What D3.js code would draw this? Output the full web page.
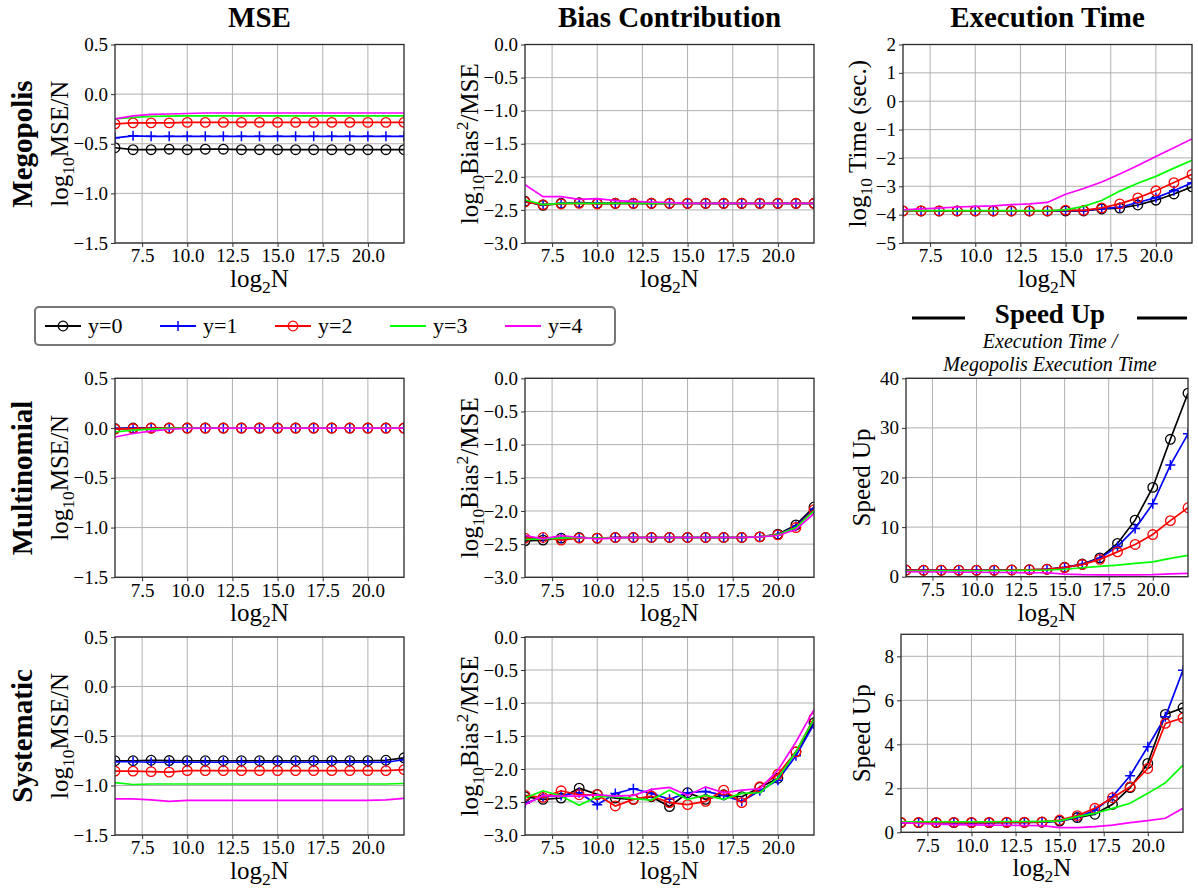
<!DOCTYPE html>
<html>
<head>
<meta charset="utf-8">
<script src="https://cdn.jsdelivr.net/npm/d3@7"></script>
<style>
  body { margin: 0; background: #fff; }
  svg, svg text { font-family: "Liberation Serif", "DejaVu Serif", serif; fill: #000; }
</style>
</head>
<body>
<svg id="fig" width="1198" height="890" font-family="Liberation Serif, DejaVu Serif, serif"></svg>
<script>
// x values: log2 N
const logN = [6, 7, 8, 9, 10, 11, 12, 13, 14, 15, 16, 17, 18, 19, 20, 21, 22]
const seriesNames = ["y=0", "y=1", "y=2", "y=3", "y=4"]
const seriesColors = ["#000000", "#0000ff", "#ff0000", "#00ff00", "#ff00ff"]
const seriesMarkers = ["circle", "plus", "circle", "none", "none"]
const xTickValues = [7.5, 10, 12.5, 15, 17.5, 20]

// Megopolis
const megopolisMse = [
  [-0.54, -0.56, -0.56, -0.555, -0.56, -0.555, -0.555, -0.56, -0.56, -0.56, -0.56, -0.56, -0.56, -0.56, -0.56, -0.56, -0.56],
  [-0.44, -0.42, -0.425, -0.425, -0.425, -0.425, -0.425, -0.425, -0.425, -0.425, -0.425, -0.425, -0.425, -0.425, -0.425, -0.425, -0.425],
  [-0.30, -0.29, -0.29, -0.29, -0.285, -0.285, -0.285, -0.285, -0.285, -0.285, -0.285, -0.285, -0.285, -0.285, -0.285, -0.285, -0.285],
  [-0.25, -0.235, -0.225, -0.222, -0.22, -0.22, -0.22, -0.22, -0.22, -0.22, -0.22, -0.22, -0.22, -0.22, -0.22, -0.22, -0.22],
  [-0.25, -0.22, -0.205, -0.20, -0.195, -0.19, -0.19, -0.19, -0.19, -0.19, -0.19, -0.19, -0.19, -0.19, -0.19, -0.19, -0.19]
]
const megopolisBias = [
  [-2.37, -2.43, -2.40, -2.39, -2.40, -2.40, -2.40, -2.40, -2.40, -2.40, -2.40, -2.40, -2.40, -2.40, -2.40, -2.40, -2.40],
  [-2.38, -2.42, -2.40, -2.39, -2.40, -2.40, -2.40, -2.40, -2.40, -2.40, -2.40, -2.40, -2.40, -2.40, -2.40, -2.40, -2.40],
  [-2.38, -2.42, -2.41, -2.40, -2.41, -2.40, -2.40, -2.40, -2.40, -2.40, -2.40, -2.40, -2.40, -2.40, -2.40, -2.40, -2.40],
  [-2.35, -2.42, -2.40, -2.40, -2.40, -2.40, -2.40, -2.40, -2.40, -2.40, -2.40, -2.40, -2.40, -2.40, -2.40, -2.40, -2.40],
  [-2.12, -2.30, -2.30, -2.34, -2.33, -2.36, -2.37, -2.38, -2.39, -2.40, -2.40, -2.40, -2.40, -2.40, -2.40, -2.40, -2.40]
]
const megopolisTime = [
  [-3.87, -3.87, -3.87, -3.87, -3.87, -3.87, -3.87, -3.87, -3.87, -3.87, -3.87, -3.80, -3.77, -3.66, -3.49, -3.27, -3.02],
  [-3.87, -3.87, -3.87, -3.87, -3.87, -3.87, -3.87, -3.87, -3.87, -3.86, -3.86, -3.79, -3.74, -3.57, -3.40, -3.16, -2.88],
  [-3.87, -3.87, -3.87, -3.87, -3.87, -3.87, -3.87, -3.87, -3.87, -3.84, -3.85, -3.76, -3.62, -3.41, -3.16, -2.87, -2.58],
  [-3.86, -3.86, -3.86, -3.86, -3.86, -3.86, -3.86, -3.86, -3.86, -3.83, -3.71, -3.50, -3.17, -2.89, -2.65, -2.36, -2.08],
  [-3.83, -3.80, -3.77, -3.73, -3.71, -3.69, -3.65, -3.62, -3.57, -3.28, -3.08, -2.85, -2.57, -2.27, -1.95, -1.64, -1.33]
]

// Multinomial
const multinomialMse = [
  [-0.005, 0, 0, 0, 0, 0, 0, 0, 0, 0, 0, 0, 0, 0, 0, 0, 0],
  [-0.005, 0, 0, 0, 0, 0, 0, 0, 0, 0, 0, 0, 0, 0, 0, 0, 0],
  [-0.01, -0.005, 0, 0, 0, 0, 0, 0, 0, 0, 0, 0, 0, 0, 0, 0, 0],
  [-0.04, -0.02, -0.01, -0.003, 0, 0, 0, 0, 0, 0, 0, 0, 0, 0, 0, 0, 0],
  [-0.09, -0.055, -0.03, -0.012, -0.003, 0, 0, 0, 0, 0, 0, 0, 0, 0, 0, 0, 0]
]
const multinomialBias = [
  [-2.45, -2.44, -2.41, -2.40, -2.41, -2.40, -2.40, -2.40, -2.40, -2.40, -2.40, -2.40, -2.40, -2.39, -2.35, -2.21, -1.94],
  [-2.42, -2.41, -2.41, -2.40, -2.41, -2.40, -2.40, -2.40, -2.40, -2.40, -2.40, -2.40, -2.40, -2.39, -2.36, -2.23, -1.97],
  [-2.41, -2.40, -2.44, -2.41, -2.41, -2.40, -2.40, -2.40, -2.40, -2.40, -2.40, -2.40, -2.40, -2.39, -2.36, -2.25, -1.98],
  [-2.43, -2.42, -2.41, -2.40, -2.41, -2.41, -2.40, -2.40, -2.40, -2.40, -2.40, -2.40, -2.40, -2.39, -2.36, -2.25, -2.00],
  [-2.37, -2.42, -2.37, -2.40, -2.42, -2.41, -2.40, -2.40, -2.40, -2.40, -2.40, -2.40, -2.40, -2.39, -2.37, -2.28, -2.04]
]
const multinomialSpeed = [
  [1.35, 1.3, 1.3, 1.3, 1.3, 1.3, 1.35, 1.4, 1.5, 1.9, 2.55, 3.8, 6.7, 11.4, 18.0, 27.7, 37.0],
  [1.3, 1.3, 1.3, 1.3, 1.3, 1.3, 1.35, 1.4, 1.5, 1.85, 2.5, 3.7, 6.1, 9.7, 14.7, 22.5, 28.8],
  [1.3, 1.3, 1.3, 1.3, 1.3, 1.3, 1.35, 1.4, 1.5, 1.85, 2.45, 3.5, 5.0, 6.5, 8.5, 11.3, 13.9],
  [1.15, 1.15, 1.2, 1.2, 1.2, 1.25, 1.25, 1.3, 1.35, 1.5, 1.8, 2.1, 2.35, 2.7, 3.0, 3.7, 4.3],
  [1.0, 0.95, 0.95, 0.9, 0.9, 0.85, 0.85, 0.8, 0.8, 0.5, 0.4, 0.38, 0.38, 0.38, 0.4, 0.55, 0.67]
]

// Systematic
const systematicMse = [
  [-0.75, -0.75, -0.745, -0.748, -0.75, -0.75, -0.75, -0.75, -0.75, -0.75, -0.75, -0.75, -0.75, -0.75, -0.75, -0.745, -0.72],
  [-0.76, -0.76, -0.765, -0.765, -0.765, -0.765, -0.765, -0.765, -0.765, -0.765, -0.765, -0.765, -0.765, -0.765, -0.765, -0.765, -0.74],
  [-0.855, -0.855, -0.86, -0.865, -0.85, -0.85, -0.85, -0.85, -0.85, -0.85, -0.85, -0.85, -0.85, -0.85, -0.85, -0.85, -0.84],
  [-0.97, -0.99, -0.985, -0.985, -0.985, -0.985, -0.985, -0.985, -0.985, -0.985, -0.985, -0.985, -0.985, -0.985, -0.985, -0.985, -0.98],
  [-1.135, -1.135, -1.145, -1.16, -1.15, -1.15, -1.15, -1.15, -1.15, -1.15, -1.15, -1.15, -1.15, -1.15, -1.15, -1.145, -1.13]
]
const systematicBias = [
  [-2.42, -2.46, -2.44, -2.29, -2.385, -2.44, -2.46, -2.42, -2.57, -2.36, -2.46, -2.39, -2.42, -2.28, -2.14, -1.74, -1.30],
  [-2.52, -2.42, -2.40, -2.36, -2.54, -2.37, -2.30, -2.37, -2.46, -2.36, -2.34, -2.40, -2.49, -2.33, -2.17, -1.80, -1.32],
  [-2.40, -2.43, -2.33, -2.39, -2.39, -2.56, -2.46, -2.41, -2.51, -2.54, -2.49, -2.32, -2.51, -2.27, -2.08, -1.74, -1.23],
  [-2.44, -2.33, -2.41, -2.55, -2.42, -2.42, -2.45, -2.47, -2.32, -2.46, -2.40, -2.46, -2.37, -2.36, -2.14, -1.74, -1.24],
  [-2.54, -2.40, -2.41, -2.41, -2.39, -2.41, -2.40, -2.31, -2.28, -2.40, -2.27, -2.36, -2.32, -2.30, -2.02, -1.59, -1.10]
]
const systematicSpeed = [
  [0.44, 0.44, 0.44, 0.44, 0.44, 0.44, 0.45, 0.45, 0.46, 0.51, 0.67, 0.82, 1.27, 2.03, 3.13, 5.36, 5.66],
  [0.44, 0.44, 0.44, 0.44, 0.44, 0.44, 0.45, 0.45, 0.46, 0.52, 0.68, 1.0, 1.62, 2.57, 3.89, 5.25, 7.37],
  [0.45, 0.45, 0.45, 0.45, 0.45, 0.45, 0.46, 0.46, 0.47, 0.56, 0.76, 1.09, 1.57, 2.07, 2.9, 4.95, 5.2],
  [0.48, 0.48, 0.48, 0.48, 0.48, 0.48, 0.49, 0.49, 0.50, 0.52, 0.71, 0.86, 1.09, 1.32, 1.77, 2.25, 3.06],
  [0.44, 0.40, 0.37, 0.35, 0.34, 0.33, 0.32, 0.31, 0.30, 0.21, 0.21, 0.26, 0.33, 0.44, 0.53, 0.64, 1.09]
]

const serif = "Liberation Serif, DejaVu Serif, serif"
const svg = d3.select("#fig")
const fontTick = 19, fontLabel = 25

// label parts: [text, kind] kind: n / sub / sup
function richText(sel, parts, size) {
  let shift = 0
  parts.forEach(([t, kind]) => {
    let target = kind == "sub" ? size * 0.24 : kind == "sup" ? -size * 0.42 : 0
    sel.append("tspan")
      .attr("dy", target - shift)
      .attr("font-size", kind == "n" ? size : size * 0.7)
      .text(t)
    shift = target
  })
}

const mseLabel = [["log", "n"], ["10", "sub"], ["MSE/N", "n"]]
const biasLabel = [["log", "n"], ["10", "sub"], ["Bias", "n"], ["2", "sup"], ["/MSE", "n"]]
const timeLabel = [["log", "n"], ["10", "sub"], ["\u2009Time (sec.)", "n"]]
const speedLabel = [["Speed Up", "n"]]

const panels = [
  {x0: 115, x1: 404, y0: 44.5, y1: 243, data: megopolisMse, yDomain: [-1.5, 0.5], yTicks: [-1.5, -1, -0.5, 0, 0.5], fmt: ".1f", label: mseLabel, lx: 68},
  {x0: 525, x1: 814, y0: 44.5, y1: 243, data: megopolisBias, yDomain: [-3, 0], yTicks: [-3, -2.5, -2, -1.5, -1, -0.5, 0], fmt: ".1f", label: biasLabel, lx: 478},
  {x0: 903, x1: 1192, y0: 44.5, y1: 243, data: megopolisTime, yDomain: [-5, 2], yTicks: [-5, -4, -3, -2, -1, 0, 1, 2], fmt: "d", label: timeLabel, lx: 866},
  {x0: 115, x1: 404, y0: 378.3, y1: 577.3, data: multinomialMse, yDomain: [-1.5, 0.5], yTicks: [-1.5, -1, -0.5, 0, 0.5], fmt: ".1f", label: mseLabel, lx: 68},
  {x0: 525, x1: 814, y0: 378.3, y1: 577.3, data: multinomialBias, yDomain: [-3, 0], yTicks: [-3, -2.5, -2, -1.5, -1, -0.5, 0], fmt: ".1f", label: biasLabel, lx: 478},
  {x0: 906, x1: 1188, y0: 378.3, y1: 576.7, data: multinomialSpeed, yDomain: [0, 40], yTicks: [0, 10, 20, 30, 40], fmt: "d", label: speedLabel, lx: 870},
  {x0: 115, x1: 404, y0: 637, y1: 835, data: systematicMse, yDomain: [-1.5, 0.5], yTicks: [-1.5, -1, -0.5, 0, 0.5], fmt: ".1f", label: mseLabel, lx: 68},
  {x0: 525, x1: 814, y0: 637, y1: 835, data: systematicBias, yDomain: [-3, 0], yTicks: [-3, -2.5, -2, -1.5, -1, -0.5, 0], fmt: ".1f", label: biasLabel, lx: 478},
  {x0: 901, x1: 1183, y0: 634.3, y1: 832.3, data: systematicSpeed, yDomain: [0, 9], yTicks: [0, 2, 4, 6, 8], fmt: "d", label: speedLabel, lx: 870}
]

function drawMarker(g, kind, color, cx, cy) {
  if (kind == "circle") {
    g.append("circle").attr("cx", cx).attr("cy", cy).attr("r", 4.8)
      .attr("fill", "none").attr("stroke", color).attr("stroke-width", 1.3)
  } else if (kind == "plus") {
    g.append("path").attr("d", `M${cx - 5},${cy}H${cx + 5}M${cx},${cy - 5}V${cy + 5}`)
      .attr("stroke", color).attr("stroke-width", 1.5)
  }
}

panels.forEach((p, i) => {
  let w = p.x1 - p.x0, h = p.y1 - p.y0
  let g = svg.append("g").attr("transform", `translate(${p.x0},${p.y0})`)
  let x = d3.scaleLinear().domain([6, 22]).range([0, w])
  let y = d3.scaleLinear().domain(p.yDomain).range([h, 0])

  // grid
  g.append("g").selectAll("line").data(xTickValues).join("line")
    .attr("x1", d => x(d)).attr("x2", d => x(d)).attr("y1", 0).attr("y2", h)
    .attr("stroke", "#b0b0b0").attr("stroke-width", 1)
  g.append("g").selectAll("line").data(p.yTicks).join("line")
    .attr("x1", 0).attr("x2", w).attr("y1", d => y(d)).attr("y2", d => y(d))
    .attr("stroke", "#b0b0b0").attr("stroke-width", 1)

  // axes
  let xa = g.append("g").attr("transform", `translate(0,${h})`)
    .call(d3.axisBottom(x).tickValues(xTickValues).tickFormat(d3.format(".1f")).tickSize(4).tickPadding(2))
  let ya = g.append("g")
    .call(d3.axisLeft(y).tickValues(p.yTicks).tickFormat(d3.format(p.fmt)).tickSize(4).tickPadding(3))
  ;[xa, ya].forEach(a => {
    a.attr("font-family", serif).attr("font-size", fontTick)
    a.select(".domain").remove()
    a.selectAll("text").attr("font-size", fontTick).attr("font-family", serif)
    a.selectAll("line").attr("stroke", "#333")
  })

  // clip lines and markers to the axes
  g.append("clipPath").attr("id", "clip" + i)
    .append("rect").attr("width", w).attr("height", h)
  let plot = g.append("g").attr("clip-path", `url(#clip${i})`)
  let line = d3.line().x((d, j) => x(logN[j])).y(d => y(d))

  p.data.forEach((vals, s) => {
    plot.append("path").datum(vals)
      .attr("d", line)
      .attr("fill", "none")
      .attr("stroke", seriesColors[s])
      .attr("stroke-width", 1.7)
    vals.forEach((v, j) => drawMarker(plot, seriesMarkers[s], seriesColors[s], x(logN[j]), y(v)))
  })

  // frame
  g.append("rect").attr("width", w).attr("height", h)
    .attr("fill", "none").attr("stroke", "#2a2a2a").attr("stroke-width", 1.3)

  // x label
  let xl = g.append("text").attr("x", w / 2).attr("y", h + 44)
    .attr("text-anchor", "middle").attr("font-family", serif)
  richText(xl, [["log", "n"], ["2", "sub"], ["N", "n"]], fontLabel)

  // y label
  let yl = svg.append("text")
    .attr("transform", `translate(${p.lx},${(p.y0 + p.y1) / 2}) rotate(-90)`)
    .attr("text-anchor", "middle").attr("font-family", serif)
  richText(yl, p.label, fontLabel)
})

// column titles
const columnTitles = ["MSE", "Bias Contribution", "Execution Time"]
const titleX = [259.5, 669.5, 1047.5]
columnTitles.forEach((t, i) => {
  svg.append("text").attr("x", titleX[i]).attr("y", 27).attr("font-family", serif)
    .attr("text-anchor", "middle").attr("font-size", 29).attr("font-weight", "bold").text(t)
})

// row titles
const rowTitles = ["Megopolis", "Multinomial", "Systematic"]
const rowCenters = [144, 478, 736]
rowTitles.forEach((t, i) => {
  svg.append("text").attr("font-family", serif)
    .attr("transform", `translate(32,${rowCenters[i]}) rotate(-90)`)
    .attr("text-anchor", "middle").attr("font-size", 29).attr("font-weight", "bold").text(t)
})

// speed up header
svg.append("text").attr("x", 1050).attr("y", 323).attr("font-family", serif)
  .attr("text-anchor", "middle").attr("font-size", 27).attr("font-weight", "bold").text("Speed Up")
svg.append("line").attr("x1", 912).attr("x2", 965).attr("y1", 318).attr("y2", 318)
  .attr("stroke", "#000").attr("stroke-width", 3)
svg.append("line").attr("x1", 1137).attr("x2", 1187).attr("y1", 318).attr("y2", 318)
  .attr("stroke", "#000").attr("stroke-width", 3)
svg.append("text").attr("x", 1050).attr("y", 348).attr("font-family", serif)
  .attr("text-anchor", "middle").attr("font-size", 20).attr("font-style", "italic").text("Execution Time /")
svg.append("text").attr("x", 1050).attr("y", 371).attr("font-family", serif)
  .attr("text-anchor", "middle").attr("font-size", 20).attr("font-style", "italic").text("Megopolis Execution Time")

// legend
const legend = svg.append("g")
legend.append("rect").attr("x", 35).attr("y", 307).attr("width", 580).attr("height", 38)
  .attr("rx", 4).attr("fill", "#fff").attr("stroke", "#777").attr("stroke-width", 2)
const legendX = [45, 160, 275, 390, 505]
seriesNames.forEach((name, s) => {
  let lx = legendX[s], ly = 326
  legend.append("line").attr("x1", lx).attr("x2", lx + 36).attr("y1", ly).attr("y2", ly)
    .attr("stroke", seriesColors[s]).attr("stroke-width", 2)
  drawMarker(legend, seriesMarkers[s], seriesColors[s], lx + 18, ly)
  legend.append("text").attr("x", lx + 43).attr("y", ly + 7).attr("font-family", serif)
    .attr("font-size", 22).text(name)
})
</script>
</body>
</html>
